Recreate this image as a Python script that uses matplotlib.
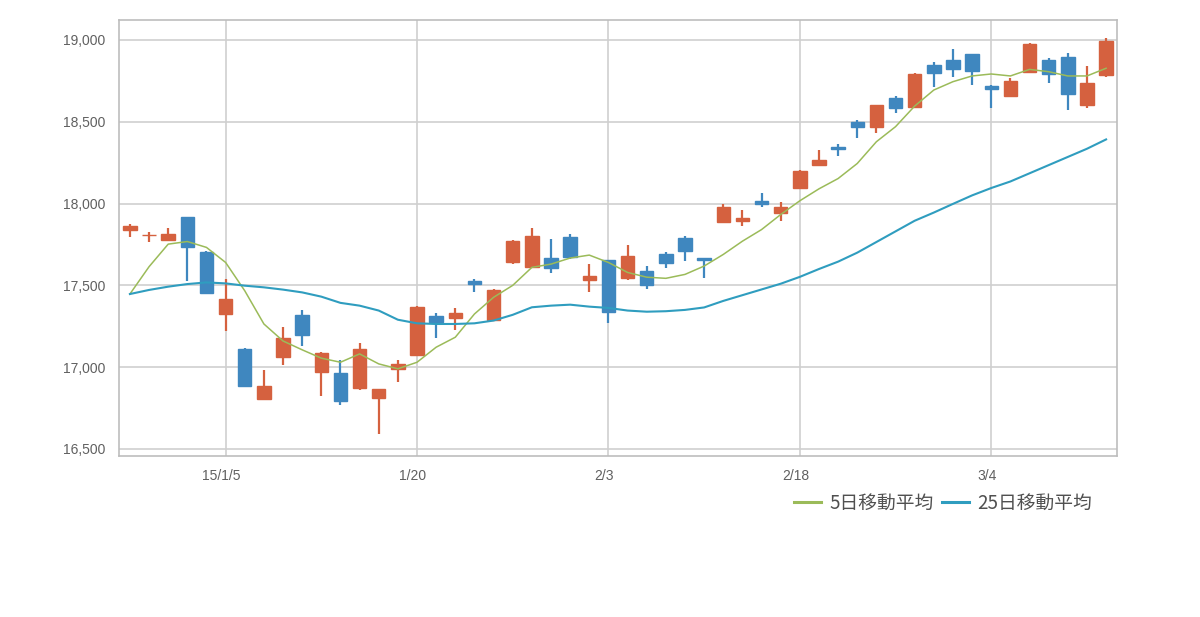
import matplotlib
matplotlib.use("Agg")
import matplotlib.pyplot as plt
import matplotlib.transforms as mtransforms
from matplotlib.ticker import FixedLocator, FuncFormatter

dates = ['12/24', '12/25', '12/26', '12/29', '12/30',
         '1/5', '1/6', '1/7', '1/8', '1/9', '1/13', '1/14', '1/15', '1/16', '1/19',
         '1/20', '1/21', '1/22', '1/23', '1/26', '1/27', '1/28', '1/29', '1/30', '2/2',
         '2/3', '2/4', '2/5', '2/6', '2/9', '2/10', '2/12', '2/13', '2/16', '2/17',
         '2/18', '2/19', '2/20', '2/23', '2/24', '2/25', '2/26', '2/27', '3/2', '3/3',
         '3/4', '3/5', '3/6', '3/9', '3/10', '3/11', '3/12']

opens = [17837, 17805, 17778, 17915, 17705, 17325, 17108, 16805, 17065, 17319,
         16970, 16965, 16872, 16813, 16990, 17073, 17311, 17301, 17526, 17289,
         17640, 17614, 17667, 17793, 17535, 17654, 17545, 17589, 17693, 17791,
         17665, 17888, 17895, 18018, 17943, 18098, 18235, 18347, 18500, 18466,
         18643, 18588, 18847, 18878, 18914, 18720, 18659, 18806, 18878, 18898,
         18602, 18786]
highs = [17878, 17829, 17850, 17918, 17712, 17540, 17115, 16984, 17244, 17350,
         17090, 17041, 17146, 16866, 17041, 17372, 17331, 17360, 17539, 17476,
         17775, 17850, 17783, 17813, 17630, 17656, 17746, 17620, 17703, 17801,
         17668, 18000, 17963, 18065, 18010, 18208, 18327, 18367, 18510, 18605,
         18657, 18800, 18867, 18945, 18916, 18725, 18765, 18984, 18888, 18922,
         18841, 19010]
lows = [17797, 17768, 17772, 17528, 17445, 17224, 16880, 16800, 17016, 17132,
        16823, 16766, 16858, 16594, 16909, 17070, 17179, 17228, 17457, 17285,
        17630, 17610, 17573, 17661, 17457, 17268, 17535, 17478, 17604, 17648,
        17547, 17885, 17862, 17978, 17892, 18092, 18233, 18290, 18398, 18429,
        18551, 18585, 18714, 18776, 18725, 18582, 18649, 18800, 18735, 18572,
        18582, 18776]
closes = [17862, 17810, 17817, 17732, 17451, 17417, 16882, 16886, 17177, 17197,
          17087, 16793, 17108, 16866, 17020, 17370, 17278, 17329, 17508, 17474,
          17772, 17803, 17604, 17671, 17559, 17335, 17677, 17502, 17638, 17709,
          17655, 17980, 17912, 18000, 17982, 18200, 18266, 18335, 18466, 18602,
          18582, 18790, 18796, 18823, 18812, 18700, 18751, 18973, 18790, 18670,
          18735, 18996]

ma5 = [17447, 17614, 17752, 17768, 17732, 17640, 17467, 17264, 17160, 17106,
       17055, 17030, 17081, 17020, 16990, 17030, 17122, 17183, 17325, 17427,
       17500, 17610, 17630, 17667, 17685, 17640, 17579, 17550, 17543, 17567,
       17618, 17689, 17770, 17841, 17933, 18017, 18090, 18153, 18245, 18378,
       18470, 18596, 18694, 18745, 18780, 18792, 18780, 18820, 18806, 18780,
       18780, 18827]
ma25 = [17447, 17472, 17492, 17508, 17518, 17512, 17498, 17488, 17474, 17457,
        17431, 17393, 17376, 17346, 17290, 17268, 17264, 17264, 17268, 17285,
        17320, 17366, 17376, 17382, 17370, 17362, 17346, 17339, 17342, 17350,
        17365, 17405, 17440, 17475, 17510, 17552, 17600, 17645, 17700, 17765,
        17830, 17895, 17945, 17998, 18050, 18095, 18135, 18185, 18235, 18285,
        18335, 18392]

shown_ticks = {'1/5': '15/1/5', '1/20': '1/20', '2/3': '2/3', '2/18': '2/18', '3/4': '3/4'}
y_ticks = [16500, 17000, 17500, 18000, 18500, 19000]

UP = '#D5613F'
DOWN = '#3F87BF'
GREEN = '#9BBB59'
TEAL = '#2F9DBF'

plt.rcParams['font.family'] = ['Liberation Sans', 'DejaVu Sans']

fig = plt.figure(figsize=(12, 6.17), dpi=100)
ax = fig.add_axes([119 / 1200, 161 / 617, 998 / 1200, 436 / 617])

x = list(range(len(dates)))
colors = [UP if c >= o else DOWN for o, c in zip(opens, closes)]
bottoms = [min(o, c) for o, c in zip(opens, closes)]
heights = [abs(c - o) for o, c in zip(opens, closes)]

ax.vlines(x, lows, highs, colors=colors, linewidth=1.6, zorder=3)
ax.bar(x, heights, bottom=bottoms, width=0.7, color=colors, edgecolor=colors,
       linewidth=1.0, zorder=4)

ax.plot(x, ma5, color=GREEN, linewidth=1.1, zorder=5, label='5日移動平均')
ax.plot(x, ma25, color=TEAL, linewidth=1.5, zorder=5, label='25日移動平均')

ax.set_xlim(-0.57, len(dates) - 1 + 0.57)
ax.set_ylim(16457, 19122)

tick_pos = [i for i, d in enumerate(dates) if d in shown_ticks]
ax.xaxis.set_major_locator(FixedLocator(tick_pos))
ax.set_xticklabels([shown_ticks[dates[i]] for i in tick_pos])
ax.yaxis.set_major_locator(FixedLocator(y_ticks))
ax.yaxis.set_major_formatter(FuncFormatter(lambda v, p: f'{int(v):,}'))

ax.grid(True, color='#CFCFCF', linewidth=1.2, zorder=0)
ax.set_axisbelow(True)
for s in ax.spines.values():
    s.set_color('#BDBDBD')
    s.set_linewidth(1.2)
ax.tick_params(axis='both', length=0, labelsize=10, labelcolor='#606060')
ax.tick_params(axis='y', pad=10)
ax.tick_params(axis='x', pad=9)

shift = mtransforms.ScaledTranslation(-4 / 100, 0, fig.dpi_scale_trans)
for lbl in ax.get_xticklabels():
    lbl.set_transform(lbl.get_transform() + shift)

leg = ax.legend(loc='center right', bbox_to_anchor=(0.975, -47 / 436), ncol=2,
                frameon=False, borderaxespad=0, borderpad=0,
                handlelength=1.45, handletextpad=0.45, columnspacing=0.4,
                prop={'family': ['Noto Sans CJK JP', 'DejaVu Sans'], 'size': 13.5})
for t in leg.get_texts():
    t.set_color('#505050')
for h in leg.get_lines():
    h.set_linewidth(2.2)

fig.savefig('out.png', dpi=100, facecolor='white')
